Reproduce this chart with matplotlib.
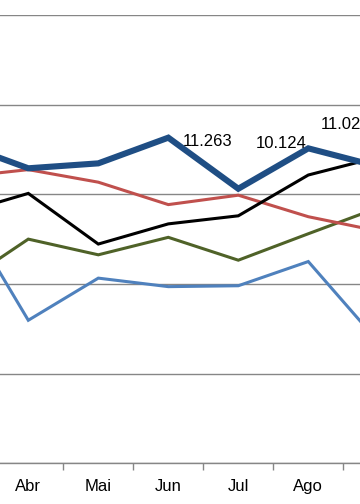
import matplotlib
matplotlib.use('Agg')
import matplotlib.pyplot as plt
import numpy as np

# months (Mar and Set only show as the clipped ends of the lines)
months = ['Mar', 'Abr', 'Mai', 'Jun', 'Jul', 'Ago', 'Set']

# series values (thousands)
serie_azul_escuro = [11150, 10580, 10690, 11263, 10124, 11025, 10620]
serie_vermelha = [10380, 10550, 10270, 9770, 9980, 9500, 9180]
serie_preta = [9560, 10020, 8890, 9340, 9520, 10430, 10830]
serie_verde = [7950, 9000, 8650, 9040, 8530, 9120, 9700]
serie_azul_claro = [9810, 7190, 8130, 7940, 7960, 8500, 6710]

# which points of the dark blue series carry a data label
label_months = ['Jun', 'Jul', 'Ago']
label_offsets = [(14, -2), (17, 47), (12, 25)]

plt.rcParams['font.family'] = ['Liberation Sans', 'DejaVu Sans']

fig = plt.figure(figsize=(3.6, 5.04), dpi=100)
ax = fig.add_axes([0.0, 0.0808, 1.0, 0.8895])

x = np.arange(len(months))
ax.plot(x, serie_azul_claro, color='#4F81BD', lw=2.2, solid_joinstyle='miter', zorder=3)
ax.plot(x, serie_verde, color='#4F6228', lw=2.2, solid_joinstyle='miter', zorder=3)
ax.plot(x, serie_vermelha, color='#C0504D', lw=2.2, solid_joinstyle='miter', zorder=3)
ax.plot(x, serie_preta, color='black', lw=2.2, solid_joinstyle='miter', zorder=4)
ax.plot(x, serie_azul_escuro, color='#1F4E84', lw=4.4, solid_joinstyle='miter', zorder=5)

for m, off in zip(label_months, label_offsets):
    i = months.index(m)
    v = serie_azul_escuro[i]
    txt = f'{v / 1000:.3f}'
    ax.annotate(txt, xy=(i, v), xytext=off, textcoords='offset pixels',
                ha='left', va='center_baseline', fontsize=12, color='black',
                annotation_clip=False, zorder=6)

ax.set_yticks(np.arange(4000, 14001, 2000))
ax.yaxis.grid(True, color='#868686', lw=1.0)
ax.tick_params(axis='y', left=False, labelleft=False)

ax.set_xticks(x)
ax.set_xticklabels(months, fontsize=12)
ax.set_xticks(x[:-1] + 0.5, minor=True)
ax.tick_params(axis='x', which='major', length=0, pad=11)
ax.tick_params(axis='x', which='minor', length=5, width=1, color='#868686', direction='out')

# limits last, so the ticks do not widen the view
ax.set_xlim(1 - 28.3 / 70, 1 + (360 - 28.3) / 70)
ax.set_ylim(4000, 14000)

for s in ['top', 'left', 'right']:
    ax.spines[s].set_visible(False)
ax.spines['bottom'].set_color('#868686')
ax.spines['bottom'].set_linewidth(1.0)
ax.set_axisbelow(True)

fig.savefig('out.png', dpi=100)
